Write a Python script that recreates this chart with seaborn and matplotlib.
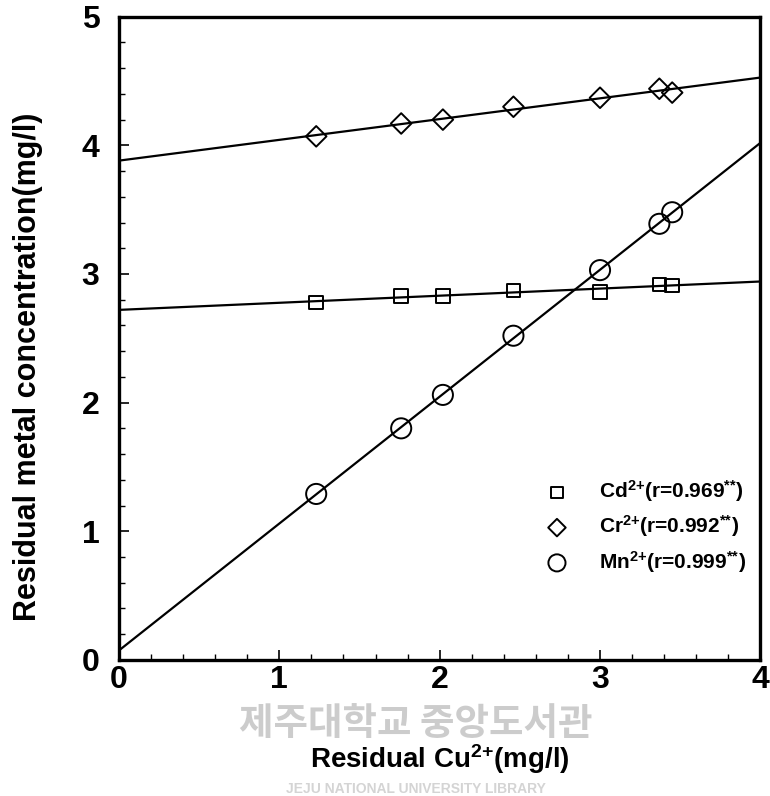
import numpy as np
import pandas as pd
import matplotlib
matplotlib.use("Agg")
import matplotlib.pyplot as plt
import seaborn as sns
from matplotlib.ticker import MultipleLocator

# ---- data ----
cu = [1.23, 1.76, 2.02, 2.46, 3.00, 3.37, 3.45]
cd = [2.78, 2.83, 2.83, 2.87, 2.86, 2.92, 2.91]
cr = [4.07, 4.17, 4.20, 4.30, 4.37, 4.44, 4.41]
mn = [1.29, 1.80, 2.06, 2.52, 3.03, 3.39, 3.48]
labels = [r"Cd$^{2{+}}$(r=0.969$^{{*}{*}}$)", r"Cr$^{2{+}}$(r=0.992$^{{*}{*}}$)",
          r"Mn$^{2{+}}$(r=0.999$^{{*}{*}}$)"]
xticks = [0, 1, 2, 3, 4]
yticks = [0, 1, 2, 3, 4, 5]

sns.set_theme(style="white")
fam = ["Liberation Sans Narrow", "Liberation Sans", "DejaVu Sans"]
plt.rcParams["font.family"] = fam
plt.rcParams["font.weight"] = "bold"
plt.rcParams["text.color"] = "black"
plt.rcParams["axes.labelcolor"] = "black"
plt.rcParams["xtick.color"] = "black"
plt.rcParams["ytick.color"] = "black"
plt.rcParams["mathtext.fontset"] = "custom"
plt.rcParams["mathtext.rm"] = "Liberation Sans:bold"
plt.rcParams["mathtext.it"] = "Liberation Sans:bold"
plt.rcParams["mathtext.bf"] = "Liberation Sans:bold"
plt.rcParams["mathtext.default"] = "rm"

fig = plt.figure(figsize=(7.7, 7.96), dpi=100)
ax = fig.add_axes([0.1545, 0.171, 0.833, 0.808])
ax.set_xlim(0, 4)
ax.set_ylim(0, 5)

df = pd.DataFrame({"cu": cu, "cd": cd, "cr": cr, "mn": mn})
specs = [("cd", "s", 95, labels[0]), ("cr", "D", 110, labels[1]), ("mn", "o", 210, labels[2])]
for col, mk, s, lab in specs:
    sns.regplot(data=df, x="cu", y=col, ax=ax, scatter=False, ci=None, truncate=False,
                line_kws=dict(color="black", lw=1.6, zorder=2))
    sns.scatterplot(data=df, x="cu", y=col, ax=ax, marker=mk, s=s, facecolors="none",
                    edgecolor="black", linewidth=1.4, label=lab, zorder=3)

ax.set_xlim(0, 4)
ax.set_ylim(0, 5)
ax.set_xticks(xticks)
ax.set_yticks(yticks)
ax.xaxis.set_minor_locator(MultipleLocator(0.2))
ax.yaxis.set_minor_locator(MultipleLocator(0.2))
ax.tick_params(which="both", direction="in", bottom=True, left=True, top=False, right=False,
               colors="black", labelcolor="black")
ax.tick_params(which="major", length=7, width=1.2)
ax.tick_params(which="minor", length=4, width=1.0)
ax.tick_params(axis="x", pad=4)
ax.tick_params(axis="y", pad=14)
for lab in ax.get_xticklabels() + ax.get_yticklabels():
    lab.set_fontsize(23)
    lab.set_fontweight("bold")
for sp in ax.spines.values():
    sp.set_color("black")
    sp.set_linewidth(2.4)

ax.set_xlabel(r"Residual Cu$^{2{+}}$(mg/l)", fontsize=20, fontweight="bold", labelpad=34, color="black")
ax.set_ylabel("Residual metal concentration(mg/l)", fontsize=22, fontweight="bold", color="black")
ax.yaxis.set_label_coords(-0.118, 0.456)

leg = ax.legend(loc="lower right", bbox_to_anchor=(1.0, 0.11), frameon=False, fontsize=15,
                handletextpad=1.0, labelspacing=0.45, borderaxespad=0.3, markerscale=0.85)
for t in leg.get_texts():
    t.set_fontweight("bold")
    t.set_color("black")

# watermark (library stamp in the scan)
fig.text(0.54, 0.091, "제주대학교 중앙도서관", fontsize=27, color="#cccccc", ha="center", va="center",
         family=["Noto Sans CJK KR", "DejaVu Sans"], zorder=0)
fig.text(0.54, 0.009, "JEJU NATIONAL UNIVERSITY LIBRARY", fontsize=10, color="#d4d4d4",
         ha="center", va="center", family=["Liberation Sans", "DejaVu Sans"], zorder=0)

fig.savefig("out.png", dpi=100, facecolor="white")
